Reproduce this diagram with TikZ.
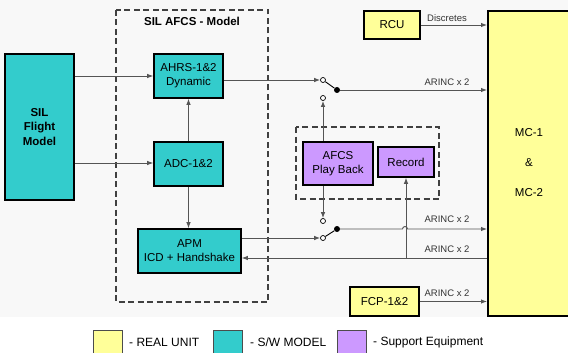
\documentclass[tikz,border=0pt]{standalone}
\usepackage{fontspec}
\setmainfont{Liberation Sans}
\usetikzlibrary{arrows.meta}
\definecolor{realunit}{HTML}{FFFF99}
\definecolor{swmodel}{HTML}{33CCCC}
\definecolor{support}{HTML}{CC99FF}
\definecolor{wire}{HTML}{555555}
\definecolor{paper}{HTML}{F8F8F8}
\begin{document}
\begin{tikzpicture}[x=1pt,y=-1pt,
  blk/.style={draw=black, line width=1.6pt, align=center, inner sep=0pt,
    font=\fontsize{11.5}{14}\selectfont},
  wire/.style={draw=wire, line width=0.9pt},
  arr/.style={wire, -{Latex[length=6pt,width=4.5pt]}},
  sw/.style={circle, draw=black, fill=white, line width=0.7pt, inner sep=0pt, minimum size=5pt},
  dot/.style={circle, fill=black, inner sep=0pt, minimum size=6pt},
  group/.style={draw=black!75, line width=1.2pt, dash pattern=on 6pt off 3.5pt},
  lbl/.style={font=\fontsize{9.5}{11}\selectfont, text=black!80, inner sep=0pt},
  legtxt/.style={font=\fontsize{12}{14}\selectfont, anchor=west, inner sep=0pt},
  legbox/.style={draw=black!70, line width=0.8pt, minimum width=29pt, minimum height=30pt, inner sep=0pt}
]
\clip (0,0) rectangle (568,353);
\fill[white] (0,0) rectangle (568,353);
\fill[paper] (0,0) rectangle (568,317);

% dashed groupings
\draw[group] (116,10) rectangle (268,302);
\node[font=\bfseries\fontsize{11.5}{14}\selectfont, inner sep=0pt] (afcstitle) at (192,21) {SIL AFCS - Model};
\draw[group] (296,127) rectangle (439,199);

% blocks
\node[blk, fill=swmodel, minimum width=69pt, minimum height=146pt, font=\bfseries\fontsize{11.5}{14.5}\selectfont] (sil) at (39.5,127) {SIL\\Flight\\Model};
\node[blk, fill=swmodel, minimum width=69pt, minimum height=44pt] (ahrs) at (188.5,76) {AHRS-1\&2\\Dynamic};
\node[blk, fill=swmodel, minimum width=69pt, minimum height=44pt] (adc) at (188.5,164) {ADC-1\&2};
\node[blk, fill=swmodel, minimum width=103pt, minimum height=44pt] (apm) at (189.5,251) {APM\\ICD + Handshake};
\node[blk, fill=realunit, minimum width=56pt, minimum height=28pt] (rcu) at (392,25) {RCU};
\node[blk, fill=support, minimum width=70pt, minimum height=43pt] (pb) at (338,163.5) {AFCS\\Play Back};
\node[blk, fill=support, minimum width=56pt, minimum height=30pt] (rec) at (406,162) {Record};
\node[blk, fill=realunit, minimum width=69pt, minimum height=29pt] (fcp) at (384.5,301.5) {FCP-1\&2};
\node[blk, fill=realunit, minimum width=110pt, minimum height=305pt, anchor=north west] (mc) at (487,10) {};
\node[font=\fontsize{11.5}{14}\selectfont, align=center, inner sep=0pt] (mctext) at (529,163) {MC-1\\[16pt]\&\\[16pt]MC-2};

% switches
\node[sw] (s1a) at (323,80) {};
\node[sw] (s1b) at (323,98) {};
\node[dot] (d1) at (337,90) {};
\node[sw] (s2a) at (323,221) {};
\node[sw] (s2b) at (323,238) {};
\node[dot] (d2) at (337,229) {};
\draw[black, line width=0.9pt] (s1a) -- (d1);
\draw[black, line width=0.9pt] (s2b) -- (d2);

% connectors
\draw[arr] (sil.east |- 0,76) -- (ahrs.west);
\draw[arr] (sil.east |- 0,163) -- (adc.west |- 0,163);
\draw[arr] (adc.north) -- (ahrs.south);
\draw[arr] (adc.south) -- (apm.north -| adc.south);
\draw[arr] (ahrs.east |- s1a) -- (s1a);
\draw[arr] (pb.north -| s1b) -- (s1b);
\draw[arr] (pb.south -| s2a) -- (s2a);
\draw[arr] (apm.east |- s2b) -- (s2b);
\draw[arr] (d1) -- (mc.west |- d1);
\draw[arr] (d2) -- (402.5,229) arc[start angle=180, end angle=360, radius=2.5] -- (mc.west |- d2);
\draw[arr] (mc.west |- 0,258) -- (apm.east |- 0,258);
\draw[arr] (rec.south |- 0,258) -- (rec.south);
\draw[arr] (rcu.east) -- (mc.west |- rcu.east);
\draw[arr] (fcp.east) -- (mc.west |- fcp.east);

% connector labels
\node[lbl] (lbldisc) at (447,18) {Discretes};
\node[lbl] (lbla1) at (447,82) {ARINC x 2};
\node[lbl] (lbla2) at (447,219) {ARINC x 2};
\node[lbl] (lbla3) at (447,249) {ARINC x 2};
\node[lbl] (lbla4) at (447,293) {ARINC x 2};

% legend
\node[legbox, fill=realunit] (kreal) at (107.5,345) {};
\node[legtxt] (treal) at (129,342) {- REAL UNIT};
\node[legbox, fill=swmodel] (ksw) at (228,345) {};
\node[legtxt] (tsw) at (250,342) {- S/W MODEL};
\node[legbox, fill=support] (ksup) at (351.5,345) {};
\node[legtxt] (tsup) at (373,342) {- Support Equipment};
\end{tikzpicture}
\end{document}
